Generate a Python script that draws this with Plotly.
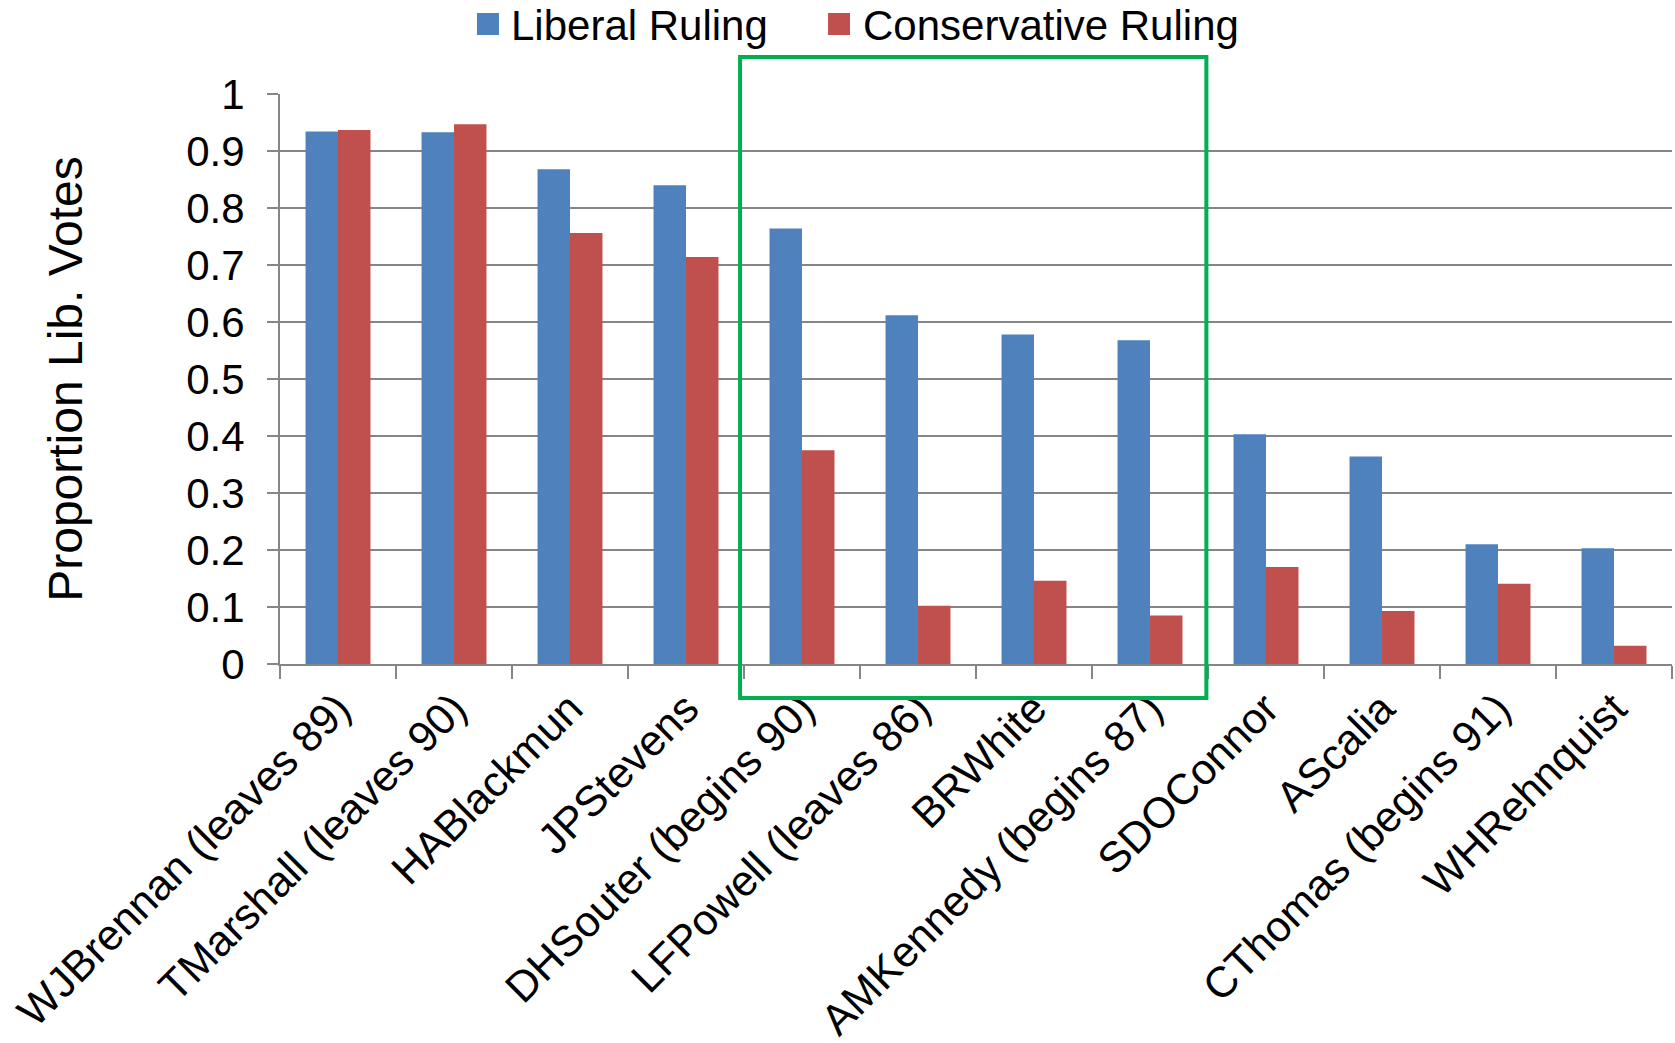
import plotly.graph_objects as go

# Justices in order of liberal-ruling vote share
justices = [
    "WJBrennan (leaves 89)", "TMarshall (leaves 90)", "HABlackmun", "JPStevens",
    "DHSouter (begins 90)", "LFPowell (leaves 86)", "BRWhite", "AMKennedy (begins 87)",
    "SDOConnor", "AScalia", "CThomas (begins 91)", "WHRehnquist",
]
liberal_ruling = [0.934, 0.933, 0.868, 0.840, 0.764, 0.612, 0.578, 0.568,
                  0.403, 0.364, 0.210, 0.203]
conservative_ruling = [0.937, 0.947, 0.756, 0.714, 0.375, 0.102, 0.146, 0.085,
                       0.170, 0.093, 0.141, 0.032]
y_ticks = [0, 0.1, 0.2, 0.3, 0.4, 0.5, 0.6, 0.7, 0.8, 0.9, 1]

FONT = "Liberation Sans, Arial, sans-serif"
GRID = "#868686"
BLUE = "#4F81BD"
RED = "#C0504D"

fig = go.Figure()
fig.add_trace(go.Bar(x=justices, y=liberal_ruling, name="Liberal Ruling",
                     marker=dict(color=BLUE, line=dict(width=0))))
fig.add_trace(go.Bar(x=justices, y=conservative_ruling, name="Conservative Ruling",
                     marker=dict(color=RED, line=dict(width=0))))

# Highlight box around the mid-court justices
fig.add_shape(type="rect", xref="paper", yref="paper",
              x0=0.3305, x1=0.6655, y0=-0.0596, y1=1.065,
              line=dict(color="#00B050", width=4), fillcolor="rgba(0,0,0,0)",
              layer="above")

# Legend drawn above the plot: colour swatch + label for each series
legend_items = [
    ("Liberal Ruling", BLUE, 0.1415, 0.1645),
    ("Conservative Ruling", RED, 0.3937, 0.4174),
]
for label, color, sx, tx in legend_items:
    fig.add_shape(type="rect", xref="paper", yref="paper",
                  x0=sx, x1=sx + 0.0158, y0=1.1035, y1=1.1421,
                  line=dict(width=0), fillcolor=color)
    fig.add_annotation(text=label, xref="paper", yref="paper", x=tx, y=1.121,
                       xanchor="left", yanchor="middle", showarrow=False,
                       font=dict(size=42, color="black"))

fig.update_layout(
    width=1675, height=1043,
    margin=dict(l=280, r=3, t=94, b=379),
    paper_bgcolor="white", plot_bgcolor="white",
    font=dict(family=FONT, size=42, color="black"),
    barmode="group", bargap=0.44, bargroupgap=0,
    showlegend=False,
    xaxis=dict(
        tickangle=-45, ticks="outside", tickson="boundaries", ticklen=13,
        tickcolor=GRID, tickwidth=2, showline=True, linecolor=GRID, linewidth=2,
        showgrid=False, tickfont=dict(size=43), automargin=False,
    ),
    yaxis=dict(
        range=[0, 1], tickvals=y_ticks, ticktext=[f"{v:g}" for v in y_ticks],
        ticks="outside", ticklen=11, tickcolor=GRID, tickwidth=2,
        ticklabelstandoff=14,
        showgrid=True, gridcolor=GRID, gridwidth=2,
        showline=True, linecolor=GRID, linewidth=2, zeroline=False,
        title=dict(text="Proportion Lib. Votes", font=dict(size=48), standoff=88),
        tickfont=dict(size=42), automargin=False,
    ),
)

fig.write_html("out.html")
